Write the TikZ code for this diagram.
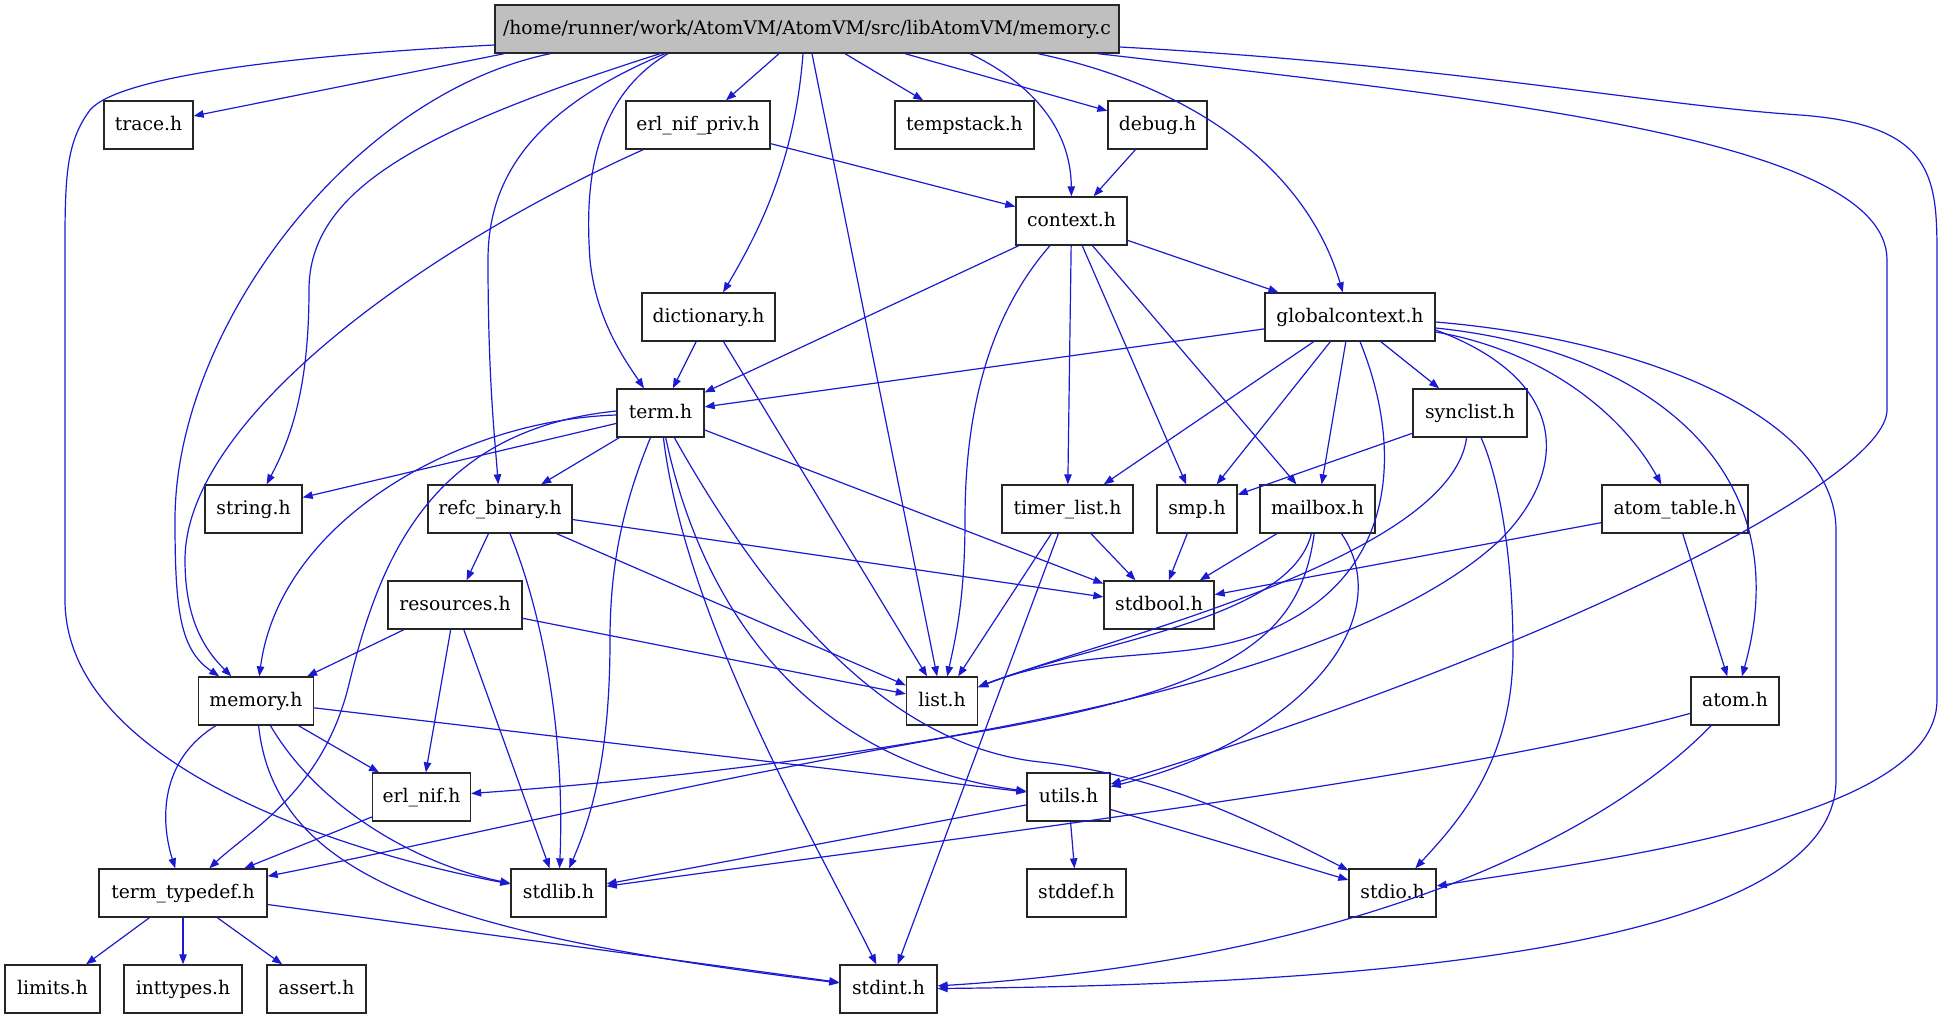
\documentclass[tikz,border=0pt]{standalone}
\usepackage{fontspec}
\setmainfont{DejaVu Serif}
\usetikzlibrary{arrows.meta,calc}
\definecolor{ink}{HTML}{262626}
\definecolor{rootGray}{HTML}{BFBFBF}
\definecolor{dep}{HTML}{1A1AD2}
\tikzset{
  hfile/.style={draw=ink, fill=white, line width=1pt, inner sep=0pt,
    minimum height=36pt, minimum width=#1*0.75pt, text height=10.6pt, text depth=2pt,
    font=\fontsize{14.06}{16}\selectfont},
  hroot/.style={hfile=#1, fill=rootGray},
  inc/.style={draw=dep, line width=0.9pt, -{Triangle[length=7.5pt,width=5.6pt]}},
}
\begin{document}
\begin{tikzpicture}[x=0.75pt, y=-0.75pt]
  \useasboundingbox (0,0) rectangle (1943,1019);

  % files, one row per rank
  \node[hroot=624] (root) at (807,29) {/home/runner/work/AtomVM/AtomVM/src/libAtomVM/memory.c};

  \node[hfile=89] (trace) at (148.5,125) {trace.h};
  \node[hfile=144] (erlnifpriv) at (698,125) {erl\_nif\_priv.h};
  \node[hfile=139] (tempstack) at (964.5,125) {tempstack.h};
  \node[hfile=99] (debug) at (1157.5,125) {debug.h};

  \node[hfile=111] (context) at (1071.5,221) {context.h};

  \node[hfile=133] (dictionary) at (708.5,317) {dictionary.h};
  \node[hfile=170] (globalcontext) at (1350,317) {globalcontext.h};

  \node[hfile=87] (term) at (660.5,413) {term.h};
  \node[hfile=114] (synclist) at (1470,413) {synclist.h};

  \node[hfile=97] (string) at (253.5,509) {string.h};
  \node[hfile=144] (refcbinary) at (500,509) {refc\_binary.h};
  \node[hfile=131] (timerlist) at (1067.5,509) {timer\_list.h};
  \node[hfile=80] (smp) at (1197,509) {smp.h};
  \node[hfile=115] (mailbox) at (1317.5,509) {mailbox.h};
  \node[hfile=146] (atomtable) at (1675,509) {atom\_table.h};

  \node[hfile=134] (resources) at (455,605) {resources.h};
  \node[hfile=110] (stdbool) at (1159,605) {stdbool.h};

  \node[hfile=115] (memoryh) at (256,701) {memory.h};
  \node[hfile=71] (listh) at (942,701) {list.h};
  \node[hfile=88] (atom) at (1735,701) {atom.h};

  \node[hfile=98] (erlnif) at (421.5,797) {erl\_nif.h};
  \node[hfile=83] (utils) at (1068.5,797) {utils.h};

  \node[hfile=168] (termtypedef) at (183,893) {term\_typedef.h};
  \node[hfile=95] (stdlib) at (558.5,893) {stdlib.h};
  \node[hfile=99] (stddef) at (1076.5,893) {stddef.h};
  \node[hfile=87] (stdio) at (1392.5,893) {stdio.h};

  \node[hfile=95] (limits) at (52.5,989) {limits.h};
  \node[hfile=118] (inttypes) at (183,989) {inttypes.h};
  \node[hfile=99] (assert) at (316.5,989) {assert.h};
  \node[hfile=97] (stdint) at (888.5,989) {stdint.h};

  % memory.c
  \draw[inc] ($(root.south west)+(10,0)$) -- (trace);
  \draw[inc] ($(root.west)+(0,16)$) .. controls (300,55) and (120,75) .. (90,110) .. controls (68,140) and (65,170) .. (65,240) -- (65,600) .. controls (65,760) and (330,850) .. (stdlib);
  \draw[inc] ($(root.south west)+(56,0)$) .. controls (350,95) and (175,330) .. (175,520) .. controls (175,610) and (180,650) .. (memoryh);
  \draw[inc] ($(root.south)+(-147,0)$) .. controls (420,130) and (309,190) .. (309,290) .. controls (309,390) and (290,440) .. (string);
  \draw[inc] ($(root.south)+(-142,0)$) .. controls (530,110) and (488,180) .. (488,260) .. controls (488,380) and (495,440) .. (refcbinary);
  \draw[inc] ($(root.south)+(-139,0)$) .. controls (590,100) and (585,190) .. (590,260) .. controls (596,320) and (625,360) .. (term);
  \draw[inc] ($(root.south)+(-28,0)$) -- (erlnifpriv);
  \draw[inc] ($(root.south)+(-4,0)$) .. controls (795,160) and (760,230) .. (dictionary);
  \draw[inc] ($(root.south)+(5,0)$) -- (listh);
  \draw[inc] ($(root.south)+(38,0)$) -- (tempstack);
  \draw[inc] ($(root.south)+(98,0)$) -- (debug);
  \draw[inc] ($(root.south)+(163,0)$) .. controls (1045,90) and (1071,140) .. (context);
  \draw[inc] ($(root.south)+(231,0)$) .. controls (1210,90) and (1310,180) .. (globalcontext);
  \draw[inc] ($(root.south east)+(-22,0)$) .. controls (1500,100) and (1887,140) .. (1887,260) -- (1887,410) .. controls (1887,480) and (1550,650) .. (utils);
  \draw[inc] ($(root.east)+(0,18)$) .. controls (1450,65) and (1650,105) .. (1800,115) .. controls (1937,125) and (1937,180) .. (1937,260) -- (1937,700) .. controls (1937,820) and (1600,860) .. (stdio);

  % second rank
  \draw[inc] (erlnifpriv) -- (context);
  \draw[inc] (erlnifpriv) .. controls (420,250) and (185,420) .. (185,560) .. controls (185,620) and (205,650) .. (memoryh);
  \draw[inc] (debug) -- (context);

  % context.h
  \draw[inc] (context) -- (globalcontext);
  \draw[inc] (context) -- (term);
  \draw[inc] (context) .. controls (985,320) and (965,420) .. (965,520) .. controls (965,600) and (955,640) .. (listh);
  \draw[inc] (context) -- (timerlist);
  \draw[inc] (context) -- (smp);
  \draw[inc] (context) -- (mailbox);

  \draw[inc] (dictionary) -- (term);
  \draw[inc] (dictionary) -- (listh);

  % globalcontext.h
  \draw[inc] (globalcontext) -- (term);
  \draw[inc] (globalcontext) -- (timerlist);
  \draw[inc] (globalcontext) -- (smp);
  \draw[inc] (globalcontext) -- (mailbox);
  \draw[inc] (globalcontext) -- (synclist);
  \draw[inc] (globalcontext) .. controls (1400,440) and (1400,560) .. (1290,620) .. controls (1200,670) and (1100,640) .. (listh);
  \draw[inc] ($(globalcontext.east)+(0,13)$) .. controls (1570,380) and (1570,470) .. (1500,540) .. controls (1330,700) and (800,770) .. (erlnif);
  \draw[inc] ($(globalcontext.east)+(0,15)$) .. controls (1540,350) and (1620,410) .. (atomtable);
  \draw[inc] ($(globalcontext.east)+(0,11)$) .. controls (1650,350) and (1800,470) .. (atom);
  \draw[inc] ($(globalcontext.east)+(0,5)$) .. controls (1650,340) and (1836,420) .. (1836,530) -- (1836,780) .. controls (1836,960) and (1300,985) .. (stdint);

  \draw[inc] (synclist) -- (smp);
  \draw[inc] (synclist) .. controls (1450,560) and (1100,640) .. (listh);
  \draw[inc] (synclist) .. controls (1500,480) and (1513,560) .. (1513,650) .. controls (1513,760) and (1460,820) .. (stdio);

  % term.h
  \draw[inc] (term) -- (string);
  \draw[inc] ($(term.west)+(0,2)$) .. controls (460,420) and (280,520) .. (memoryh);
  \draw[inc] ($(term.west)+(0,-2)$) .. controls (430,430) and (380,560) .. (350,680) .. controls (325,790) and (250,830) .. (termtypedef);
  \draw[inc] (term) -- (refcbinary);
  \draw[inc] (term) .. controls (625,500) and (610,560) .. (610,640) .. controls (610,760) and (590,820) .. (stdlib);
  \draw[inc] (term) .. controls (685,620) and (820,850) .. (stdint);
  \draw[inc] (term) .. controls (700,600) and (800,760) .. (utils);
  \draw[inc] (term) .. controls (760,590) and (880,745) .. (1040,762) .. controls (1160,775) and (1250,820) .. (stdio);
  \draw[inc] (term) -- (stdbool);

  % refc_binary.h, resources.h
  \draw[inc] (refcbinary) -- (resources);
  \draw[inc] (refcbinary) .. controls (545,620) and (565,740) .. (stdlib);
  \draw[inc] (refcbinary) -- (listh);
  \draw[inc] (refcbinary) -- (stdbool);
  \draw[inc] (resources) -- (memoryh);
  \draw[inc] (resources) -- (erlnif);
  \draw[inc] (resources) -- (stdlib);
  \draw[inc] (resources) -- (listh);

  % third rank, right side
  \draw[inc] (timerlist) -- (stdbool);
  \draw[inc] (timerlist) -- (listh);
  \draw[inc] (timerlist) -- (stdint);
  \draw[inc] (smp) -- (stdbool);
  \draw[inc] (mailbox) -- (stdbool);
  \draw[inc] (mailbox) .. controls (1290,620) and (1100,640) .. (listh);
  \draw[inc] ($(mailbox.south)+(24,0)$) .. controls (1400,620) and (1300,740) .. (utils);
  \draw[inc] (mailbox) .. controls (1300,640) and (1230,690) .. (960,735) .. controls (700,780) and (450,840) .. (termtypedef);
  \draw[inc] (atomtable) -- (stdbool);
  \draw[inc] (atomtable) -- (atom);
  \draw[inc] (atom) .. controls (1450,780) and (900,845) .. (stdlib);
  \draw[inc] (atom) .. controls (1600,840) and (1350,960) .. (stdint);

  % memory.h and below
  \draw[inc] (memoryh) .. controls (160,760) and (160,820) .. (termtypedef);
  \draw[inc] (memoryh) -- (erlnif);
  \draw[inc] (memoryh) .. controls (320,810) and (420,865) .. (stdlib);
  \draw[inc] (memoryh) .. controls (275,880) and (450,935) .. (stdint);
  \draw[inc] (memoryh) -- (utils);
  \draw[inc] (erlnif) -- (termtypedef);
  \draw[inc] (utils) -- (stddef);
  \draw[inc] (utils) -- (stdlib);
  \draw[inc] (utils) -- (stdio);
  \draw[inc] (termtypedef) -- (limits);
  \draw[inc] (termtypedef) -- (inttypes);
  \draw[inc] (termtypedef) -- (assert);
  \draw[inc] (termtypedef) -- (stdint);
\end{tikzpicture}
\end{document}
